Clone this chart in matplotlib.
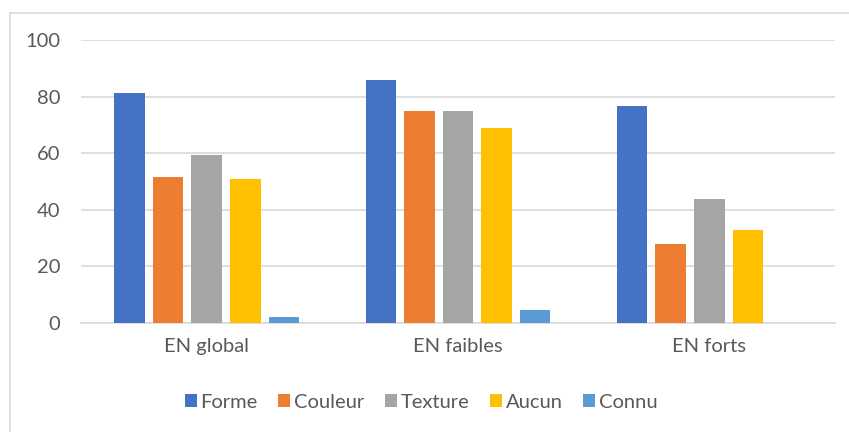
import matplotlib
matplotlib.use("Agg")
import matplotlib.pyplot as plt
import numpy as np
from matplotlib.lines import Line2D
from matplotlib.patches import Patch

categories = ["EN global", "EN faibles", "EN forts"]
series_names = ["Forme", "Couleur", "Texture", "Aucun", "Connu"]
forme = [81.2, 86.0, 76.7]
couleur = [51.6, 75.0, 28.0]
texture = [59.4, 75.0, 43.7]
aucun = [50.9, 68.9, 32.9]
connu = [2.1, 4.7, 0.0]
yticks = [0, 20, 40, 60, 80, 100]

colors = ["#4472C4", "#ED7D31", "#A5A5A5", "#FFC000", "#5B9BD5"]
text_color = "#595959"
grid_color = "#D9D9D9"
font = "Lato"
fs = 14.5

plt.rcParams['font.family'] = [font, 'DejaVu Sans']

fig = plt.figure(figsize=(8.49, 4.32), dpi=100)
fig.patch.set_facecolor("white")

# outer chart frame (left and top visible)
fig.add_artist(Line2D([9.5/849, 9.5/849], [0, 1 - 12.5/432], transform=fig.transFigure,
                      color=grid_color, lw=1.2))
fig.add_artist(Line2D([9.5/849, 1], [1 - 12.5/432, 1 - 12.5/432], transform=fig.transFigure,
                      color=grid_color, lw=1.2))

ax = fig.add_axes([81/849, 1 - 323/432, (835 - 81)/849, (323 - 40)/432])
data = [forme, couleur, texture, aucun, connu]
x = np.arange(len(categories))
spacing = 0.1536
width = 0.1214
for i, (vals, c) in enumerate(zip(data, colors)):
    ax.bar(x + (i - 2) * spacing, vals, width=width, color=c, zorder=3, linewidth=0)

ax.set_xlim(-0.5, 2.5)
ax.set_ylim(0, 100)
ax.set_yticks(yticks)
ax.set_yticklabels([str(t) for t in yticks])
ax.yaxis.grid(True, color=grid_color, lw=1.2, zorder=0)
ax.set_axisbelow(True)
for s in ["top", "right", "left"]:
    ax.spines[s].set_visible(False)
ax.spines["bottom"].set_color(grid_color)
ax.spines["bottom"].set_linewidth(1.2)
ax.tick_params(axis="y", length=0, pad=15, labelsize=fs, labelcolor=text_color)
ax.set_xticks(x)
ax.set_xticklabels(categories)
ax.tick_params(axis="x", length=0, pad=11, labelsize=fs, labelcolor=text_color)

handles = [Patch(facecolor=c, edgecolor="none") for c in colors]
leg = fig.legend(handles, series_names, loc="center", bbox_to_anchor=(421/849, 1 - 402/432),
                 ncol=5, frameon=False, fontsize=fs, handlelength=0.6, handleheight=0.6,
                 handletextpad=0.2, columnspacing=1.0)
for t in leg.get_texts():
    t.set_color(text_color)

fig.savefig("out.png", dpi=100, facecolor="white")
